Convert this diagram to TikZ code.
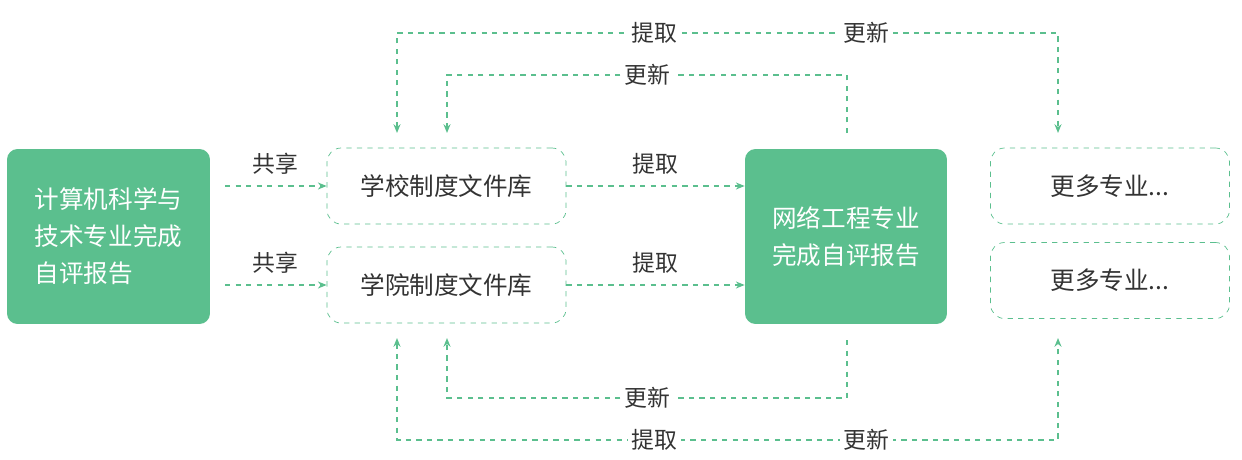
\documentclass[tikz,border=0pt]{standalone}
\usepackage{fontspec}
\setmainfont{Noto Sans CJK SC}
\usetikzlibrary{positioning, arrows.meta}
\definecolor{lgreen}{HTML}{5BBF8E}
\definecolor{ltext}{HTML}{333333}
\tikzset{
  greenbox/.style={fill=lgreen, rounded corners=6pt, text=white, font=\fontsize{14}{21}\selectfont, align=left, inner sep=0pt},
  dashbox/.style={draw=lgreen, dashed, rounded corners=8pt, text=ltext, font=\fontsize{14}{18}\selectfont, minimum width=4.78cm, minimum height=1.52cm},
  link/.style={draw=lgreen, dashed, thick, -{Stealth[length=5pt,width=4pt]}},
  lbl/.style={fill=white, text=ltext, font=\fontsize{13}{16}\selectfont, inner sep=2pt}
}
\begin{document}
\begin{tikzpicture}[x=0.02cm, y=-0.02cm]
    \useasboundingbox (0,0) rectangle (1242,460);
    % Kasten
    \node[greenbox, minimum width=4.06cm, minimum height=3.5cm] (cs) at (108.5,236.5) {};
    \node[text=white, font=\fontsize{14}{21}\selectfont, align=left] (cstext) at (cs) {计算机科学与\\技术专业完成\\自评报告};
    \node[dashbox] (school) at (446.5,186) {学校制度文件库};
    \node[dashbox] (college) at (446.5,285) {学院制度文件库};
    \node[greenbox, minimum width=4.04cm, minimum height=3.5cm] (net) at (846,236.5) {};
    \node[text=white, font=\fontsize{14}{21}\selectfont, align=left] (nettext) at (net) {网络工程专业\\完成自评报告};
    \node[dashbox] (more1) at (1110,186) {更多专业...};
    \node[dashbox] (more2) at (1110,280.5) {更多专业...};

    % Teilen und Abrufen
    \coordinate (s1) at (225,186);
    \coordinate (s2) at (225,285);
    \draw[link] (s1) -- node[lbl, above=4pt] {共享} (school.west);
    \draw[link] (s2) -- node[lbl, above=4pt] {共享} (college.west);
    \draw[link] (school.east) -- node[lbl, above=4pt] {提取} (net.west |- school);
    \draw[link] (college.east) -- node[lbl, above=4pt] {提取} (net.west |- college);

    % oben
    \draw[link, {Stealth[length=5pt,width=4pt]}-{Stealth[length=5pt,width=4pt]}]
        (397,133) -- (397,33) -- node[lbl, pos=0.39] {提取} node[lbl, pos=0.71] {更新} (1058,33) -- (1058,133);
    \draw[link] (847,133) -- (847,75) -- node[lbl] {更新} (447,75) -- (447,133);
    % unten
    \draw[link] (847,340) -- (847,398) -- node[lbl] {更新} (447,398) -- (447,338);
    \draw[link, {Stealth[length=5pt,width=4pt]}-{Stealth[length=5pt,width=4pt]}]
        (397,338) -- (397,440) -- node[lbl, pos=0.39] {提取} node[lbl, pos=0.71] {更新} (1058,440) -- (1058,338);
\end{tikzpicture}
\end{document}
